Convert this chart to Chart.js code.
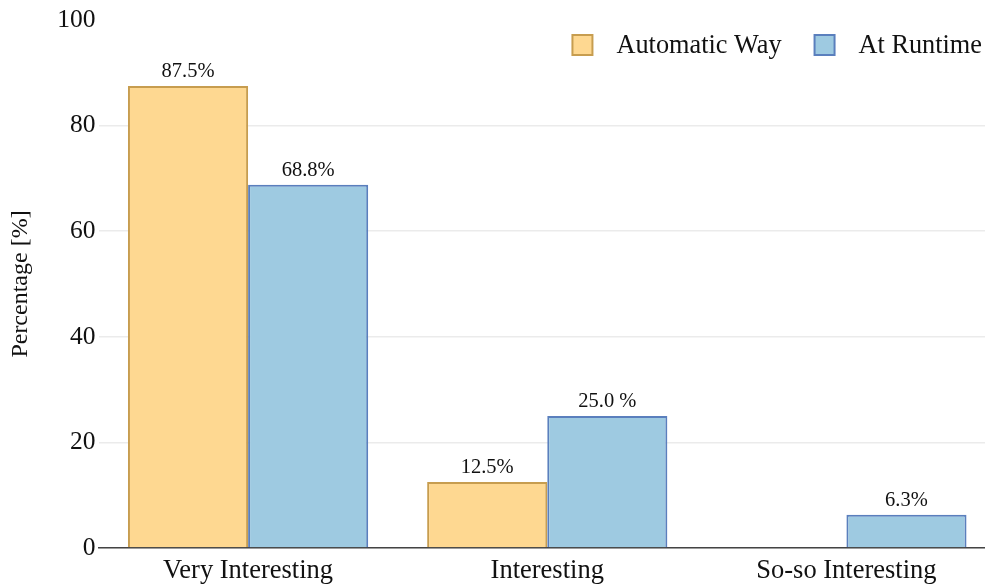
<!DOCTYPE html>
<html>
<head>
<meta charset="utf-8">
<script src="https://cdn.jsdelivr.net/npm/chart.js@4.4.1/dist/chart.umd.min.js"></script>
<style>
  html, body { margin: 0; padding: 0; background: #fff; overflow: hidden; }
  #wrap { width: 996px; height: 584px; }
</style>
</head>
<body>
<div id="wrap"><canvas id="survey-chart"></canvas></div>
<script>
var categories = ['Very Interesting', 'Interesting', 'So-so Interesting'];
var automaticWay = [87.5, 12.5, 0];
var atRuntime = [68.8, 25.0, 6.3];
var automaticLabels = ['87.5%', '12.5%', ''];
var runtimeLabels = ['68.8%', '25.0 %', '6.3%'];
var yTicks = [0, 20, 40, 60, 80, 100];

var serif = "'Liberation Serif', 'Times New Roman', serif";

// draws the value text above each bar
var barLabels = {
    id: 'barLabels',
    afterDatasetsDraw: function (chart) {
        var ctx = chart.ctx;
        ctx.save();
        ctx.font = '20.5px ' + serif;
        ctx.fillStyle = '#111';
        ctx.textAlign = 'center';
        ctx.textBaseline = 'bottom';
        chart.data.datasets.forEach(function (ds, i) {
            var meta = chart.getDatasetMeta(i);
            meta.data.forEach(function (bar, j) {
                var txt = ds.valueLabels[j];
                if (txt) ctx.fillText(txt, bar.x, bar.y - 4);
            });
        });
        ctx.restore();
    }
};

// legend drawn inside the plot, top right
var insideLegend = {
    id: 'insideLegend',
    afterDraw: function (chart) {
        var ctx = chart.ctx;
        var box = 20;
        ctx.save();
        ctx.font = '26.3px ' + serif;
        ctx.textBaseline = 'middle';
        ctx.textAlign = 'left';
        var x = 985 - 3;
        var y = 45;
        var items = chart.data.datasets.slice().reverse();
        items.forEach(function (ds) {
            var w = ctx.measureText(ds.label).width;
            x -= w;
            ctx.fillStyle = '#111';
            ctx.fillText(ds.label, x, y + 1);
            x -= 24 + box;
            ctx.fillStyle = ds.backgroundColor;
            ctx.fillRect(x, y - box / 2, box, box);
            ctx.strokeStyle = ds.borderColor;
            ctx.lineWidth = 2;
            ctx.strokeRect(x, y - box / 2, box, box);
            x -= 33;
        });
        ctx.restore();
    }
};

var ctx = document.getElementById('survey-chart');
var chart = new Chart(ctx, {
    type: 'bar',
    data: {
        labels: categories,
        datasets: [{
            label: 'Automatic Way',
            data: automaticWay,
            valueLabels: automaticLabels,
            backgroundColor: '#fed891',
            borderColor: '#c79d4f',
            borderWidth: 2
        }, {
            label: 'At Runtime',
            data: atRuntime,
            valueLabels: runtimeLabels,
            backgroundColor: '#9ecae1',
            borderColor: '#5a7fbd',
            borderWidth: 2
        }]
    },
    options: {
        responsive: true,
        maintainAspectRatio: false,
        animation: false,
        layout: {
            padding: { top: 20, left: 0, right: 0, bottom: 0 }
        },
        datasets: {
            bar: {
                categoryPercentage: 0.803,
                barPercentage: 1
            }
        },
        plugins: {
            tooltip: { enabled: false },
            legend: { display: false }
        },
        scales: {
            x: {
                grid: { display: false, drawTicks: false },
                border: { display: true, color: '#444', width: 1.5 },
                afterFit: function (scale) {
                    scale.height = 36;
                },
                ticks: {
                    color: '#111',
                    padding: 11,
                    font: { family: serif, size: 26.5, lineHeight: 0.874 }
                }
            },
            y: {
                min: 0,
                max: 100,
                afterBuildTicks: function (scale) {
                    scale.ticks = yTicks.map(function (v) { return { value: v }; });
                },
                afterFit: function (scale) {
                    scale.width = 98.5;
                },
                border: { display: false },
                grid: {
                    drawTicks: false,
                    color: function (c) {
                        return c.tick && c.tick.value === 100 ? 'rgba(0,0,0,0)' : '#ebebeb';
                    },
                    lineWidth: 1.5
                },
                ticks: {
                    color: '#111',
                    padding: 3,
                    font: { family: serif, size: 25.5 }
                },
                title: {
                    display: true,
                    text: 'Percentage [%]',
                    color: '#111',
                    padding: { top: 6, bottom: 0 },
                    font: { family: serif, size: 24 }
                }
            }
        }
    },
    plugins: [barLabels, insideLegend]
});
</script>
</body>
</html>
